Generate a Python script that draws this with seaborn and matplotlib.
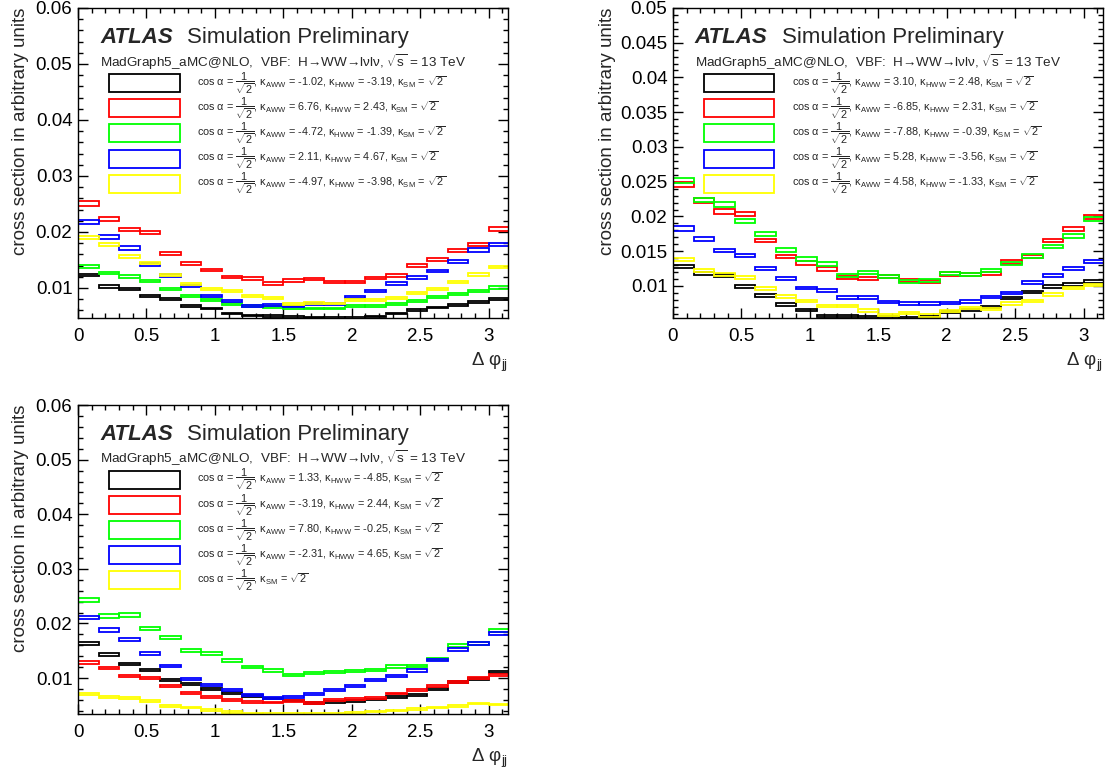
import numpy as np
import matplotlib
matplotlib.use("Agg")
import matplotlib.pyplot as plt
from matplotlib.patches import Rectangle
from matplotlib.ticker import MultipleLocator
import seaborn as sns

# Delta phi_jj binning (21 bins of 0.15, axis stops at pi)
bin_lo = [0.00, 0.15, 0.30, 0.45, 0.60, 0.75, 0.90, 1.05, 1.20, 1.35, 1.50,
          1.65, 1.80, 1.95, 2.10, 2.25, 2.40, 2.55, 2.70, 2.85, 3.00]
bin_w = 0.15

# --- top left panel ---
tl_black = [0.01228, 0.01027, 0.00988, 0.00864, 0.00808, 0.00673, 0.00634, 0.00544, 0.00510, 0.00500, 0.00482,
            0.00476, 0.00467, 0.00461, 0.00491, 0.00545, 0.00610, 0.00649, 0.00690, 0.00750, 0.00810]
tl_red = [0.02506, 0.02232, 0.02042, 0.01988, 0.01613, 0.01435, 0.01321, 0.01196, 0.01167, 0.01077, 0.01134,
          0.01158, 0.01104, 0.01107, 0.01176, 0.01226, 0.01399, 0.01500, 0.01664, 0.01777, 0.02048]
tl_green = [0.01378, 0.01270, 0.01207, 0.01129, 0.00988, 0.00850, 0.00778, 0.00712, 0.00682, 0.00664, 0.00637,
            0.00631, 0.00631, 0.00673, 0.00679, 0.00720, 0.00771, 0.00830, 0.00884, 0.00952, 0.01006]
tl_blue = [0.02185, 0.01910, 0.01714, 0.01417, 0.01220, 0.01030, 0.00850, 0.00768, 0.00685, 0.00690, 0.00667,
           0.00706, 0.00715, 0.00830, 0.00943, 0.01080, 0.01185, 0.01301, 0.01473, 0.01679, 0.01770]
tl_yellow = [0.01899, 0.01780, 0.01554, 0.01446, 0.01228, 0.01071, 0.00976, 0.00940, 0.00851, 0.00821, 0.00720,
             0.00738, 0.00723, 0.00783, 0.00780, 0.00818, 0.00902, 0.00988, 0.01104, 0.01240, 0.01375]
tl_aww = ["-1.02", "6.76", "-4.72", "2.11", "-4.97"]
tl_hww = ["-3.19", "2.43", "-1.39", "4.67", "-3.98"]

# --- top right panel ---
tr_black = [0.01275, 0.01178, 0.01157, 0.00988, 0.00865, 0.00735, 0.00650, 0.00573, 0.00568, 0.00558, 0.00548,
            0.00545, 0.00548, 0.00630, 0.00650, 0.00700, 0.00828, 0.00915, 0.00997, 0.01020, 0.01063]
tr_red = [0.02465, 0.02231, 0.02069, 0.02035, 0.01654, 0.01425, 0.01331, 0.01244, 0.01120, 0.01104, 0.01133,
          0.01077, 0.01070, 0.01173, 0.01172, 0.01176, 0.01347, 0.01427, 0.01654, 0.01820, 0.01990]
tr_green = [0.02515, 0.02236, 0.02173, 0.01936, 0.01746, 0.01516, 0.01388, 0.01318, 0.01152, 0.01193, 0.01132,
            0.01070, 0.01078, 0.01176, 0.01164, 0.01220, 0.01326, 0.01432, 0.01567, 0.01724, 0.01962]
tr_blue = [0.01826, 0.01671, 0.01512, 0.01440, 0.01256, 0.01101, 0.00971, 0.00937, 0.00831, 0.00831, 0.00766,
           0.00749, 0.00749, 0.00758, 0.00778, 0.00841, 0.00899, 0.01048, 0.01147, 0.01251, 0.01352]
tr_yellow = [0.01384, 0.01225, 0.01166, 0.01120, 0.00959, 0.00852, 0.00780, 0.00710, 0.00708, 0.00647, 0.00587,
             0.00613, 0.00575, 0.00640, 0.00681, 0.00672, 0.00746, 0.00785, 0.00881, 0.00973, 0.01014]
tr_aww = ["3.10", "-6.85", "-7.88", "5.28", "4.58"]
tr_hww = ["2.48", "2.31", "-0.39", "-3.56", "-1.33"]

# --- bottom left panel ---
bl_black = [0.01636, 0.01436, 0.01255, 0.01145, 0.00970, 0.00891, 0.00800, 0.00727, 0.00667, 0.00624, 0.00588,
            0.00545, 0.00558, 0.00576, 0.00606, 0.00655, 0.00691, 0.00806, 0.00921, 0.00980, 0.01110]
bl_red = [0.01285, 0.01182, 0.01030, 0.00994, 0.00848, 0.00727, 0.00655, 0.00594, 0.00564, 0.00552, 0.00576,
          0.00545, 0.00594, 0.00618, 0.00636, 0.00715, 0.00776, 0.00848, 0.00927, 0.01000, 0.01061]
bl_green = [0.02424, 0.02139, 0.02152, 0.01909, 0.01739, 0.01503, 0.01442, 0.01321, 0.01200, 0.01139, 0.01055,
            0.01091, 0.01109, 0.01133, 0.01152, 0.01212, 0.01224, 0.01345, 0.01603, 0.01636, 0.01867]
bl_blue = [0.02106, 0.01879, 0.01712, 0.01442, 0.01224, 0.00988, 0.00867, 0.00788, 0.00694, 0.00636, 0.00655,
           0.00710, 0.00775, 0.00848, 0.00964, 0.01042, 0.01139, 0.01333, 0.01527, 0.01624, 0.01818]
bl_yellow = [0.00712, 0.00650, 0.00630, 0.00573, 0.00485, 0.00455, 0.00415, 0.00380, 0.00355, 0.00342, 0.00340,
             0.00340, 0.00342, 0.00358, 0.00385, 0.00405, 0.00430, 0.00460, 0.00485, 0.00530, 0.00515]
bl_aww = ["1.33", "-3.19", "7.80", "-2.31", None]
bl_hww = ["-4.85", "2.44", "-0.25", "4.65", None]

colors = ["black", "#ff0000", "#00ff00", "#0000ff", "#ffff00"]

sns.set_theme(style="ticks")
plt.rcParams["font.family"] = ["Liberation Sans", "DejaVu Sans"]
plt.rcParams["mathtext.fontset"] = "custom"
plt.rcParams["mathtext.rm"] = "Liberation Sans"
plt.rcParams["mathtext.it"] = "Liberation Sans:italic"
plt.rcParams["mathtext.bf"] = "Liberation Sans:bold"


def legend_label(aww, hww):
    head = "cos α = $\\dfrac{1}{\\sqrt{2}}$, "
    sm = "$\\mathrm{κ}_{\\mathrm{SM}}$ = $\\sqrt{2}$"
    if aww is None:
        return head + sm
    return (head + "$\\mathrm{κ}_{\\mathrm{AWW}}$ = " + aww + ", "
            + "$\\mathrm{κ}_{\\mathrm{HWW}}$ = " + hww + ", " + sm)


def draw_panel(ax, series, aww, hww, ymin, ymax, ymajor, yminor, yfmt, ylab_x):
    x = np.array(bin_lo)
    for vals, col in zip(series, colors):
        v = np.array(vals)
        err = 0.012 * v + 0.00008
        ax.bar(x, 2 * err, width=bin_w, bottom=v - err, align="edge",
               fill=False, edgecolor=col, linewidth=1.3)
    ax.set_xlim(0, np.pi)
    ax.set_ylim(ymin, ymax)
    ax.xaxis.set_major_locator(MultipleLocator(0.5))
    ax.xaxis.set_minor_locator(MultipleLocator(0.1))
    ax.yaxis.set_major_locator(MultipleLocator(ymajor))
    ax.yaxis.set_minor_locator(MultipleLocator(yminor))
    ax.yaxis.set_major_formatter(plt.FuncFormatter(lambda val, pos: yfmt(val)))
    ax.xaxis.set_major_formatter(plt.FuncFormatter(lambda val, pos: f"{val:g}"))
    ax.tick_params(which="both", direction="in", top=True, right=True,
                   colors="black", width=1, labelsize=13.5)
    ax.tick_params(which="major", length=7)
    ax.tick_params(which="minor", length=3.5)
    ax.tick_params(axis="x", pad=7)
    ax.tick_params(axis="y", pad=4)
    for sp in ax.spines.values():
        sp.set_linewidth(1)
        sp.set_color("black")
    ax.set_ylabel("cross section in arbitrary units", fontsize=13.5, loc="top")
    ax.yaxis.set_label_coords(ylab_x, 1.0)
    ax.set_xlabel("Δ φ$_{\\mathrm{jj}}$", fontsize=13.5, loc="right")
    ax.xaxis.set_label_coords(1.0, -0.105)

    tr = ax.transAxes
    ax.text(0.051, 0.887, "ATLAS", transform=tr, fontsize=16,
            fontweight="bold", fontstyle="italic")
    ax.text(0.254, 0.887, "Simulation Preliminary", transform=tr, fontsize=16)
    ax.text(0.051, 0.811, "MadGraph5_aMC@NLO,  VBF:  H→WW→lνlν, $\\sqrt{\\mathrm{s}}$ = 13 TeV",
            transform=tr, fontsize=9.7)
    for k, col in enumerate(colors):
        yc = 0.758 - k * 0.0813
        ax.add_patch(Rectangle((0.073, yc - 0.029), 0.163, 0.058, transform=tr,
                               fill=False, edgecolor=col, linewidth=1.3))
        ax.text(0.276, yc, legend_label(aww[k], hww[k]), transform=tr,
                fontsize=7.8, va="center")


fig = plt.figure(figsize=(11.1, 7.78), dpi=100)
ax_tl = fig.add_axes([0.0703, 0.5913, 0.3874, 0.3985])
ax_tr = fig.add_axes([0.6063, 0.5913, 0.3874, 0.3985])
ax_bl = fig.add_axes([0.0703, 0.0823, 0.3874, 0.3970])

draw_panel(ax_tl, [tl_black, tl_red, tl_green, tl_blue, tl_yellow], tl_aww, tl_hww,
           0.00464, 0.06, 0.01, 0.002, lambda v: f"{v:.2f}", -0.115)
draw_panel(ax_tr, [tr_black, tr_red, tr_green, tr_blue, tr_yellow], tr_aww, tr_hww,
           0.0054, 0.05, 0.005, 0.001, lambda v: f"{v:g}", -0.132)
draw_panel(ax_bl, [bl_black, bl_red, bl_green, bl_blue, bl_yellow], bl_aww, bl_hww,
           0.00341, 0.06, 0.01, 0.002, lambda v: f"{v:.2f}", -0.115)

fig.savefig("out.png", dpi=100)
